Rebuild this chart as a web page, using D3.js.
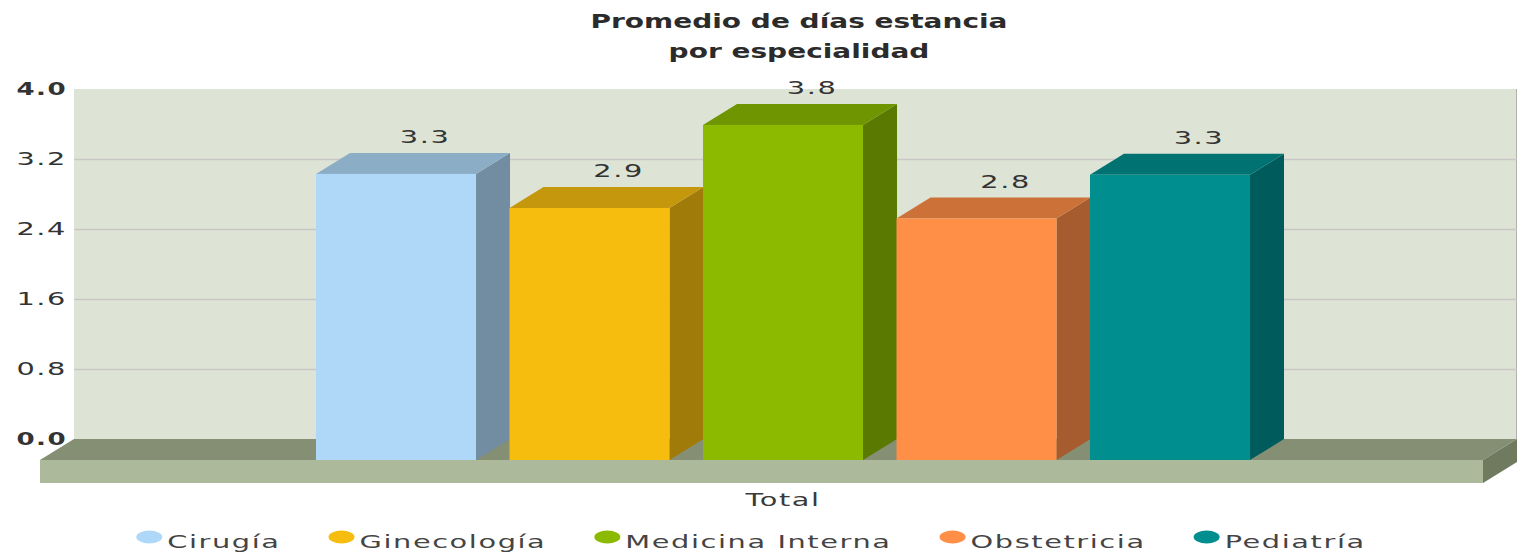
<!DOCTYPE html>
<html>
<head>
<meta charset="utf-8">
<script src="https://cdn.jsdelivr.net/npm/d3@7"></script>
<style>
  body { margin: 0; background: #fff; }
  text { font-family: 'DejaVu Sans', Verdana, sans-serif; }
</style>
</head>
<body>
<div id="chart-area"></div>
<script>
// data
const categories = ['Total'];
const series = ['Cirugía', 'Ginecología', 'Medicina Interna', 'Obstetricia', 'Pediatría'];
const values = [3.27, 2.88, 3.83, 2.76, 3.26];
const colors = ['#afd8f8', '#f6bd0f', '#8bba00', '#ff8e46', '#008e8e'];
const yTicks = [0, 0.8, 1.6, 2.4, 3.2, 4.0];
const titleLines = ['Promedio de días estancia', 'por especialidad'];

let width = 1518;
let height = 554;
let wall = { left: 74, right: 1517, top: 89, bottom: 439 };
let depth = { x: 34, y: 21 };
let floorH = 23;
let SX = 1.6; // the whole picture is stretched sideways

let chart = d3
  .select('#chart-area')
  .append('svg')
  .attr('width', width)
  .attr('height', height);

let y = d3.scaleLinear().domain([0, 4]).range([wall.bottom, wall.top]);
let xCat = d3.scaleBand().domain(categories).range([61, 1505]);
let xSer = d3
  .scaleBand()
  .domain(series)
  .range([xCat('Total') + xCat.bandwidth() / 2 - 467, xCat('Total') + xCat.bandwidth() / 2 + 467])
  .paddingInner(0.173);
let color = d3.scaleOrdinal().domain(series).range(colors);
let shade = (c, k) => {
  let r = d3.rgb(c);
  return d3.rgb(r.r * k, r.g * k, r.b * k).formatHex();
};

//stretched text helper
function stretchText(g, x, yy, str, o) {
  return g
    .append('text')
    .attr('transform', `translate(${x},${yy}) scale(${o.sx || SX},1)`)
    .attr('text-anchor', o.anchor || 'middle')
    .style('font-size', o.size + 'px')
    .style('font-weight', o.weight || 'normal')
    .style('letter-spacing', (o.ls || 0) + 'px')
    .attr('fill', o.fill || '#333')
    .text(str);
}

//back wall
chart
  .append('rect')
  .attr('x', wall.left)
  .attr('y', wall.top)
  .attr('width', wall.right - wall.left)
  .attr('height', wall.bottom - wall.top)
  .attr('fill', '#dde3d5');
chart
  .append('line')
  .attr('x1', wall.right - 0.5)
  .attr('x2', wall.right - 0.5)
  .attr('y1', wall.top)
  .attr('y2', wall.bottom)
  .attr('stroke', '#b0b3aa');

//gridlines
chart
  .append('g')
  .selectAll('line')
  .data(yTicks.filter((d) => d > 0 && d < 4))
  .join('line')
  .attr('x1', wall.left)
  .attr('x2', wall.right)
  .attr('y1', (d) => Math.round(y(d)) + 0.5)
  .attr('y2', (d) => Math.round(y(d)) + 0.5)
  .attr('stroke', '#c9c6c6')
  .attr('stroke-width', 1.5);

//floor
let fl = wall.left - depth.x;
let fr = wall.right - depth.x;
let ff = wall.bottom + depth.y;
let floor = chart.append('g');
floor
  .append('path')
  .attr('d', `M${wall.left},${wall.bottom}H${wall.right}L${fr},${ff}H${fl}Z`)
  .attr('fill', '#858f74');
floor
  .append('rect')
  .attr('x', fl)
  .attr('y', ff)
  .attr('width', fr - fl)
  .attr('height', floorH)
  .attr('fill', '#acb99b');
floor
  .append('path')
  .attr('d', `M${fr},${ff}L${wall.right},${wall.bottom}V${wall.bottom + floorH}L${fr},${ff + floorH}Z`)
  .attr('fill', '#6f7a5f');

//bars
let bars = chart
  .append('g')
  .selectAll('g')
  .data(series.map((s, i) => ({ name: s, value: values[i] })))
  .join('g');
bars
  .append('path')
  .attr('d', (d) => {
    let x1 = xSer(d.name) + xSer.bandwidth();
    return `M${x1},${y(d.value) + depth.y}L${x1 + depth.x},${y(d.value)}V${wall.bottom}L${x1},${ff}Z`;
  })
  .attr('fill', (d) => shade(color(d.name), 0.65));
bars
  .append('path')
  .attr('d', (d) => {
    let x0 = xSer(d.name);
    let x1 = x0 + xSer.bandwidth();
    let t = y(d.value);
    return `M${x0},${t + depth.y}L${x0 + depth.x},${t}H${x1 + depth.x}L${x1},${t + depth.y}Z`;
  })
  .attr('fill', (d) => shade(color(d.name), 0.8));
bars
  .append('rect')
  .attr('x', (d) => xSer(d.name))
  .attr('y', (d) => y(d.value) + depth.y)
  .attr('width', xSer.bandwidth())
  .attr('height', (d) => ff - y(d.value) - depth.y)
  .attr('fill', (d) => color(d.name));

//value labels
bars.each(function (d) {
  stretchText(
    d3.select(this),
    xSer(d.name) + xSer.bandwidth() / 2 + depth.x / 2 + 12,
    y(d.value) - 10,
    d3.format('.1f')(d.value),
    { size: 18, ls: 1, fill: '#333' },
  );
});

//y axis
let yAxis = chart.append('g');
yTicks.forEach((t) => {
  stretchText(yAxis, 67, y(t) + 6, d3.format('.1f')(t), {
    size: 18,
    ls: 1,
    anchor: 'end',
    weight: t === 0 || t === 4 ? 'bold' : 'normal',
    sx: t === 0 || t === 4 ? 1.45 : SX,
    fill: '#333',
  });
});

//title
titleLines.forEach((line, i) => {
  stretchText(chart, 799, 28 + i * 30, line, { size: 20, weight: 'bold', ls: 0, sx: 1.4, fill: '#2b2b2b' });
});

//x category label
stretchText(chart, xCat('Total') + xCat.bandwidth() / 2, 506, 'Total', { size: 18, ls: 1, fill: '#3a3a3a' });

//legend
let legend = chart.append('g');
let lx = 0;
let gap = 48;
series.forEach((s) => {
  let item = legend.append('g').attr('transform', `translate(${lx},0)`);
  item.append('ellipse').attr('cx', 13).attr('cy', -11).attr('rx', 13).attr('ry', 6.5).attr('fill', color(s));
  let t = stretchText(item, 31, 0, s, { size: 18, ls: 1, anchor: 'start', fill: '#444' });
  lx += 31 + t.node().getComputedTextLength() * SX + gap;
});
legend.attr('transform', `translate(${751 - (lx - gap) / 2},548)`);
</script>
</body>
</html>
